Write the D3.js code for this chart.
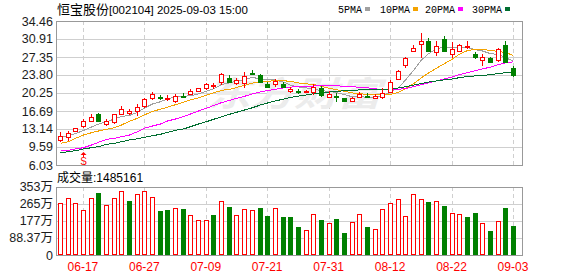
<!DOCTYPE html>
<html lang="zh">
<head>
<meta charset="UTF-8">
<title>恒宝股份 K线</title>
<script src="https://cdn.jsdelivr.net/npm/d3@7/dist/d3.min.js"></script>
<style>
    body { margin: 0; background: #fff; }
    svg { display: block; }
</style>
</head>
<body>
<svg width="578" height="276"></svg>
<script>
// 交易日
var dates = [
    "2025-06-12","2025-06-13","2025-06-16","2025-06-17","2025-06-18","2025-06-19","2025-06-20","2025-06-23","2025-06-24","2025-06-25","2025-06-26","2025-06-27","2025-06-30",
    "2025-07-01","2025-07-02","2025-07-03","2025-07-04","2025-07-07","2025-07-08","2025-07-09","2025-07-10","2025-07-11","2025-07-14","2025-07-15","2025-07-16","2025-07-17","2025-07-18","2025-07-21","2025-07-22","2025-07-23","2025-07-24","2025-07-25","2025-07-28","2025-07-29","2025-07-30","2025-07-31",
    "2025-08-01","2025-08-04","2025-08-05","2025-08-06","2025-08-07","2025-08-08","2025-08-11","2025-08-12","2025-08-13","2025-08-14","2025-08-15","2025-08-18","2025-08-19","2025-08-20","2025-08-21","2025-08-22","2025-08-25","2025-08-26","2025-08-27","2025-08-28","2025-08-29",
    "2025-09-01","2025-09-02","2025-09-03"
];
var open  = [11.10,11.50,12.60,13.79,14.78,16.04,14.12,14.52,16.04,16.30,16.69,17.68,19.20,19.46,19.22,18.72,19.71,20.05,20.50,21.09,21.82,22.28,23.15,22.30,22.16,24.13,23.80,22.02,22.02,22.02,20.50,20.60,20.54,20.58,21.29,19.55,19.60,19.20,18.67,19.46,19.75,19.36,19.40,20.50,23.07,25.67,28.60,29.86,30.51,28.28,30.91,27.89,28.54,29.19,27.89,26.70,27.10,26.62,29.72,25.12];
var high  = [12.49,12.74,13.39,15.11,16.04,16.36,15.11,16.16,17.68,17.09,18.13,19.20,20.50,19.85,19.85,20.05,20.30,20.98,21.29,22.16,22.28,24.13,23.80,23.15,24.39,24.79,24.00,22.48,23.01,22.42,21.43,20.98,20.90,22.08,21.63,20.64,20.25,19.32,19.55,20.50,20.34,19.95,21.17,22.81,24.79,27.41,29.72,32.03,31.04,30.51,31.50,30.25,29.92,30.51,28.40,27.89,27.41,29.07,30.51,25.64];
var low   = [10.63,10.77,12.49,13.28,14.58,14.60,13.79,14.18,15.90,15.90,15.76,17.34,18.80,18.80,18.67,18.33,19.20,19.85,20.38,20.84,21.09,21.82,22.16,21.82,21.17,23.90,22.16,21.37,21.49,21.33,20.34,19.98,20.17,19.85,19.55,19.32,18.53,18.53,18.53,19.20,19.26,19.16,19.06,20.19,22.75,25.24,28.28,27.10,28.40,27.61,28.54,27.10,28.40,28.93,26.96,25.64,26.23,26.43,26.11,23.46];
var close = [11.81,12.29,13.28,14.72,15.57,14.62,14.66,16.04,17.09,16.69,17.54,19.06,19.99,19.36,19.30,19.65,19.59,20.64,21.17,21.96,21.90,23.94,22.28,22.81,23.60,24.00,22.35,21.49,22.67,21.49,20.98,20.54,20.60,21.47,20.00,20.05,19.51,18.67,19.20,20.05,19.65,19.71,20.25,22.38,24.59,27.10,29.19,30.51,28.60,29.52,28.60,28.93,29.72,29.47,27.21,27.35,26.31,28.87,26.31,23.80];
var volume = [2680000,2940000,2680000,2330000,2940000,3190000,2590000,2940000,3280000,2780000,3160000,3280000,2990000,2280000,2330000,2420000,2390000,2080000,1820000,1820000,2080000,2780000,2490000,2080000,2390000,2330000,2440000,2030000,2440000,1970000,1970000,1460000,1290000,2110000,1820000,1650000,1870000,1150000,1720000,2110000,1460000,1340000,2370000,2680000,2890000,2030000,3140000,2890000,2750000,2780000,2540000,2160000,2110000,1970000,2180000,1650000,1250000,1750000,2440000,1485161];

// 图上第一根K线之前的均线值
var ma5Head  = [11.45,11.85,12.25,12.85];
var ma10Head = [10.31,10.63,11.30,11.95,12.40,12.74,13.08,13.39,13.93];
var ma20Head = [8.79,8.93,9.19,9.45,9.98,10.51,11.10,11.30,11.62,11.95,12.60,13.28,13.73,14.12,14.72,15.11,15.57,16.10,16.69];
var ma30Head = [8.46,8.66,8.85,9.19,9.45,9.65,10.12,10.31,10.63,10.97,11.22,11.50,11.81,12.09,12.49,12.88,13.14,13.59,14.12,14.58,15.05,15.51,16.04,16.43,16.89,17.34,17.88,18.27,18.67];

var priceTicks = [34.46,30.91,27.35,23.80,20.25,16.69,13.14,9.59,6.03];
var volTicks = [3534800,2651100,1767400,883700,0];
var volTickLabels = ["353万","265万","177万","88.37万","0"];
var dateTicks = ["2025-06-17","2025-06-27","2025-07-09","2025-07-21","2025-07-31","2025-08-12","2025-08-22","2025-09-03"];
var markDates = ["2025-06-17"];

var maNames = ["5PMA","10PMA","20PMA","30PMA"];
var maColors = ["#a0a0a0","#f4a300","#ff00ff","#006e30"];
var RED = "#ff0000", GREEN = "#008000";

var left = 56, right = 522;
var mainTop = 21, mainBottom = 165;
var volTop = 186.5, volBottom = 255;

var svg = d3.select("svg");

var x = d3.scaleBand().domain(dates).range([left, left + 7.68 * dates.length]);
var cx = function(d){ return Math.round(x(d) + x.bandwidth() / 2); };
var y = d3.scaleLinear().domain([6.03, 34.46]).range([mainBottom, mainTop]);
var yVol = d3.scaleLinear().domain([0, 3534800]).range([volBottom, volTop]);

var bars = dates.map(function(d, i){
    return { date: d, o: open[i], h: high[i], l: low[i], c: close[i], v: volume[i],
             prev: i > 0 ? close[i - 1] : open[i] };
});

function movingAvg(n, head){
    return close.map(function(c, i){
        return i < n - 1 ? head[i] : d3.mean(close.slice(i - n + 1, i + 1));
    });
}
var maSeries = [movingAvg(5, ma5Head), movingAvg(10, ma10Head), movingAvg(20, ma20Head), movingAvg(30, ma30Head)];

// 标题和图例
svg.append("text").attr("x", 57).attr("y", 14)
    .style("font-size", "12px").style("fill", "#000")
    .style("font-family", "'Liberation Sans', 'Noto Sans CJK SC', sans-serif")
    .call(function(t){
        t.append("tspan").style("font-size", "13px").style("font-family", "'Noto Sans CJK SC'").text("恒宝股份");
        t.append("tspan").style("font-size", "11.5px").text("[002104] 2025-09-03 15:00");
    });

var legendX = [338, 380, 425, 472];
var legend = svg.append("g").selectAll("g").data(maNames).enter().append("g")
    .attr("transform", function(d, i){ return "translate(" + legendX[i] + ",0)"; });
legend.append("text").attr("y", 12.5)
    .style("font-family", "'Liberation Mono', monospace").style("font-size", "10px").style("fill", "#000")
    .text(function(d){ return d; });
legend.append("rect")
    .attr("x", function(d){ return d.length * 6 + 3; }).attr("y", 7).attr("width", 5).attr("height", 4)
    .attr("fill", function(d, i){ return maColors[i]; });

// 网格
function grid(top, bottom, ys){
    var g = svg.append("g").attr("shape-rendering", "crispEdges");
    g.selectAll("line.h").data(ys).enter().append("line")
        .attr("x1", left).attr("x2", right)
        .attr("y1", function(d){ return Math.round(d) + 0.5; })
        .attr("y2", function(d){ return Math.round(d) + 0.5; })
        .attr("stroke", "#cfcfcf");
    g.selectAll("line.v").data(dateTicks).enter().append("line")
        .attr("x1", function(d){ return cx(d) + 0.5; }).attr("x2", function(d){ return cx(d) + 0.5; })
        .attr("y1", top).attr("y2", bottom)
        .attr("stroke", "#cfcfcf").attr("stroke-dasharray", "4,3");
    g.append("rect").attr("x", left + 0.5).attr("y", Math.round(top) + 0.5)
        .attr("width", right - left).attr("height", Math.round(bottom) - Math.round(top))
        .attr("fill", "none").attr("stroke", "#999");
}
grid(mainTop, mainBottom, priceTicks.map(y));
grid(volTop, volBottom, volTicks.map(yVol));

// 水印
svg.append("text").attr("x", 207).attr("y", 106)
    .attr("textLength", 174).attr("lengthAdjust", "spacingAndGlyphs")
    .style("font-family", "'Noto Sans CJK SC'").style("font-size", "34px").style("font-weight", "bold")
    .style("font-style", "italic").style("fill", "#ececec")
    .text("东方财富");

// 均线
var line = d3.line()
    .x(function(d, i){ return cx(dates[i]) + 0.5; })
    .y(function(d){ return y(d); });
svg.append("g").selectAll("path").data(maSeries).enter().append("path")
    .attr("d", line).attr("fill", "none")
    .attr("stroke", function(d, i){ return maColors[i]; })
    .attr("stroke-width", 1).attr("shape-rendering", "crispEdges");

// K线
var candle = svg.append("g").attr("shape-rendering", "crispEdges")
    .selectAll("g").data(bars).enter().append("g");
candle.append("line")
    .attr("x1", function(d){ return cx(d.date) + 0.5; }).attr("x2", function(d){ return cx(d.date) + 0.5; })
    .attr("y1", function(d){ return y(d.h); }).attr("y2", function(d){ return y(d.l); })
    .attr("stroke", function(d){ return d.c >= d.o ? RED : GREEN; });
candle.append("rect")
    .attr("x", function(d){ return cx(d.date) - 1.5; })
    .attr("y", function(d){ return Math.round(y(Math.max(d.o, d.c))) + 0.5; })
    .attr("width", 4)
    .attr("height", function(d){ return Math.max(1, Math.round(Math.abs(y(d.o) - y(d.c)))); })
    .attr("fill", function(d){ return d.c >= d.o ? "#fff" : GREEN; })
    .attr("stroke", function(d){ return d.c >= d.o ? RED : GREEN; });

// 除权标记
var mark = svg.append("g").selectAll("g").data(markDates).enter().append("g")
    .attr("transform", function(d){ return "translate(" + (cx(d) + 0.5) + ",0)"; });
mark.append("path").attr("d", "M0,152L3,155L-3,155Z").attr("fill", RED);
mark.append("line").attr("y1", 155).attr("y2", 157).attr("stroke", RED);
mark.append("text").attr("y", 165).attr("text-anchor", "middle")
    .style("font-family", "'Liberation Sans'").style("font-size", "10px").style("fill", RED).text("S");

// 成交量
svg.append("g").attr("shape-rendering", "crispEdges")
    .selectAll("rect").data(bars).enter().append("rect")
    .attr("x", function(d){ return cx(d.date) - 1.5; })
    .attr("y", function(d){ return Math.round(yVol(d.v)) + 0.5; })
    .attr("width", 4)
    .attr("height", function(d){ return Math.round(volBottom - yVol(d.v)) - 1; })
    .attr("fill", function(d){ return d.c >= d.prev ? "#fff" : GREEN; })
    .attr("stroke", function(d){ return d.c >= d.prev ? RED : GREEN; });

svg.append("text").attr("x", 57).attr("y", 182)
    .style("font-family", "'Liberation Sans', 'Noto Sans CJK SC', sans-serif").style("font-size", "12px").style("fill", "#000")
    .text("成交量:" + volume[volume.length - 1]);

// 坐标轴
var axisFont = "'Liberation Sans', 'Noto Sans CJK SC', sans-serif";
svg.append("g").attr("transform", "translate(" + left + ",0)")
    .call(d3.axisLeft(y).tickValues(priceTicks).tickFormat(d3.format(".2f")).tickSize(0).tickPadding(3))
    .call(function(g){ g.select(".domain").remove(); })
    .selectAll("text").style("font-family", axisFont).style("font-size", "12.5px").style("fill", "#1c1c1c");

svg.append("g").attr("transform", "translate(" + left + ",0)")
    .call(d3.axisLeft(yVol).tickValues(volTicks).tickFormat(function(d, i){ return volTickLabels[i]; }).tickSize(0).tickPadding(3))
    .call(function(g){ g.select(".domain").remove(); })
    .selectAll("text").style("font-family", axisFont).style("font-size", "12.5px").style("fill", "#1c1c1c");

svg.append("g").attr("transform", "translate(0," + volBottom + ")")
    .call(d3.axisBottom(x).tickValues(dateTicks).tickFormat(function(d){ return d.slice(5); }).tickSize(0).tickPadding(7))
    .call(function(g){ g.select(".domain").remove(); })
    .selectAll("text").style("font-family", axisFont).style("font-size", "12px").style("fill", RED);
</script>
</body>
</html>
